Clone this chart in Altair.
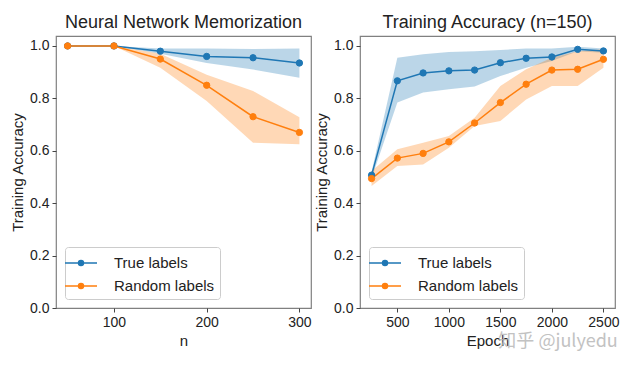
import altair as alt
import pandas as pd

SERIES = ["True labels", "Random labels"]
COLORS = ["#1f77b4", "#ff7f0e"]

# Left panel: memorization vs n
n_values = [50, 100, 150, 200, 250, 300]
mem_true = [1.0, 1.0, 0.98, 0.96, 0.955, 0.935]
mem_true_lo = [1.0, 1.0, 0.97, 0.935, 0.91, 0.879]
mem_true_hi = [1.0, 1.0, 0.99, 0.99, 0.988, 0.99]
mem_rand = [1.0, 1.0, 0.95, 0.85, 0.73, 0.67]
mem_rand_lo = [1.0, 1.0, 0.917, 0.79, 0.631, 0.625]
mem_rand_hi = [1.0, 1.0, 0.97, 0.89, 0.828, 0.728]

# Right panel: training accuracy vs epoch (n=150)
epochs = [250, 500, 750, 1000, 1250, 1500, 1750, 2000, 2250, 2500]
ep_true = [0.507, 0.867, 0.897, 0.905, 0.908, 0.936, 0.953, 0.958, 0.987, 0.981]
ep_true_lo = [0.495, 0.784, 0.822, 0.835, 0.845, 0.885, 0.917, 0.943, 0.98, 0.974]
ep_true_hi = [0.52, 0.955, 0.968, 0.977, 0.98, 0.985, 0.99, 0.99, 0.997, 0.99]
ep_rand = [0.494, 0.572, 0.59, 0.634, 0.706, 0.784, 0.854, 0.908, 0.911, 0.949]
ep_rand_lo = [0.466, 0.542, 0.548, 0.612, 0.695, 0.714, 0.796, 0.847, 0.847, 0.917]
ep_rand_hi = [0.523, 0.606, 0.631, 0.656, 0.726, 0.847, 0.911, 0.955, 0.98, 0.987]

left_ticks = [100, 200, 300]
right_ticks = [500, 1000, 1500, 2000, 2500]
y_ticks = [0.0, 0.2, 0.4, 0.6, 0.8, 1.0]

watermark = "知乎 @julyedu"

FONT = "Liberation Sans"
SYMBOL = "M -1.6 0 L 1.6 0 M 0.25 0 A 0.25 0.25 0 1 1 -0.25 0 A 0.25 0.25 0 1 1 0.25 0 Z"


def make_df(xs, t, tlo, thi, r, rlo, rhi):
    rows = []
    for i, x in enumerate(xs):
        rows.append({"x": x, "y": t[i], "lo": tlo[i], "hi": thi[i], "series": SERIES[0]})
        rows.append({"x": x, "y": r[i], "lo": rlo[i], "hi": rhi[i], "series": SERIES[1]})
    return pd.DataFrame(rows)


def panel(df, xdom, xticks, xtitle, title, wm=None):
    cs = alt.Scale(domain=SERIES, range=COLORS)
    leg = alt.Legend(
        title=None, orient="bottom-left", offset=9,
        symbolType=SYMBOL, symbolSize=400, symbolStrokeWidth=1.5,
        labelFont=FONT, labelFontSize=15, labelColor="#222222",
        fillColor="white", strokeColor="#cccccc", cornerRadius=3,
        padding=5, labelOffset=22, rowPadding=4,
    )
    xs = alt.Scale(domain=xdom, nice=False, zero=False)
    ys = alt.Scale(domain=[0, 1.038], nice=False)
    xax = alt.Axis(values=xticks, title=xtitle, format="d")
    yax = alt.Axis(values=y_ticks, format=".1f", title="Training Accuracy")
    base = alt.Chart(df)
    bands = []
    for s, c in zip(SERIES, COLORS):
        bands.append(
            base.transform_filter(alt.datum.series == s)
            .mark_area(color=c, fillOpacity=0.3, strokeWidth=0)
            .encode(
                x=alt.X("x:Q", scale=xs, axis=xax),
                y=alt.Y("lo:Q", scale=ys, axis=yax),
                y2="hi:Q",
            )
        )
    line = base.mark_line(strokeWidth=1.5).encode(
        x=alt.X("x:Q", scale=xs, axis=xax),
        y=alt.Y("y:Q", scale=ys, axis=yax),
        stroke=alt.Stroke("series:N", scale=cs, legend=leg),
        detail="series:N",
    )
    pts = base.mark_point(filled=True, size=40, opacity=1, strokeWidth=1).encode(
        x=alt.X("x:Q", scale=xs, axis=xax),
        y=alt.Y("y:Q", scale=ys, axis=yax),
        fill=alt.Fill("series:N", scale=cs, legend=leg),
        stroke=alt.Stroke("series:N", scale=cs, legend=leg),
    )
    layers = bands + [line, pts]
    if wm is not None:
        wdf = pd.DataFrame({"x": [wm[0]], "y": [wm[1]], "t": [wm[2]]})
        layers.append(
            alt.Chart(wdf).mark_text(
                font="Noto Sans CJK SC", fontSize=18, color="#b8b8b8", opacity=0.85
            ).encode(
                x=alt.X("x:Q", scale=xs, axis=xax),
                y=alt.Y("y:Q", scale=ys, axis=yax),
                text="t:N",
            )
        )
    return alt.layer(*layers).properties(
        width=255, height=272, title=title
    )


left_df = make_df(n_values, mem_true, mem_true_lo, mem_true_hi, mem_rand, mem_rand_lo, mem_rand_hi)
right_df = make_df(epochs, ep_true, ep_true_lo, ep_true_hi, ep_rand, ep_rand_lo, ep_rand_hi)

left = panel(left_df, [37.5, 312.5], left_ticks, "n", "Neural Network Memorization")
right = panel(right_df, [137.5, 2612.5], right_ticks, "Epoch", "Training Accuracy (n=150)",
              wm=(2060, -0.128, watermark))

chart = alt.hconcat(
    left, right, spacing=1, background="white",
    padding={"left": 1, "top": 5, "right": 5, "bottom": 5},
).resolve_scale(
    fill="independent", stroke="independent"
).resolve_legend(
    fill="independent", stroke="independent"
).configure_view(
    stroke="#808080", strokeWidth=1.2
).configure_axis(
    domain=False, grid=False, ticks=True, tickSize=4, tickColor="#444444",
    labelFont=FONT, labelFontSize=14, labelColor="#222222", labelPadding=3,
    titleFont=FONT, titleFontSize=15, titleFontWeight="normal", titleColor="#222222",
    titlePadding=4,
).configure_title(
    font=FONT, fontSize=18, fontWeight="normal", color="#222222", offset=4
)

chart.save("out.html", embed_options={"renderer": "svg", "actions": False})
